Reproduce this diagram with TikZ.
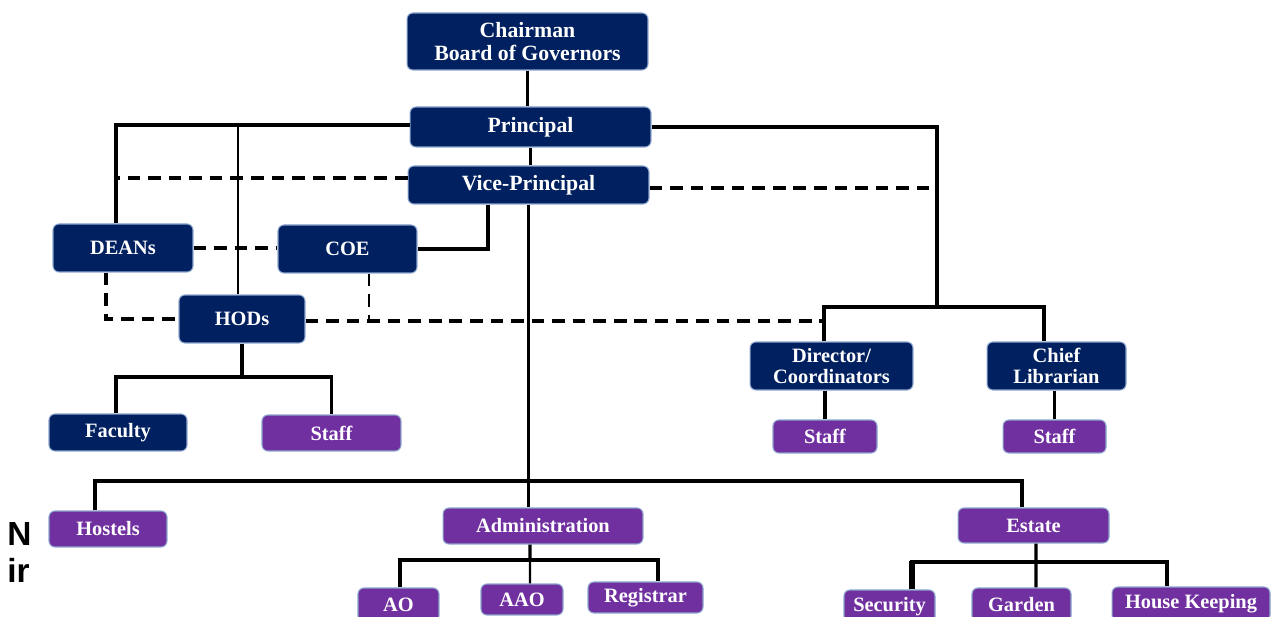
\documentclass[tikz,border=0pt]{standalone}
\usepackage{fontspec}
\setmainfont{Liberation Serif}
\newfontfamily\sidefont{Liberation Sans}
\definecolor{navy}{RGB}{0,32,96}
\definecolor{purp}{RGB}{112,48,160}
\definecolor{rim}{RGB}{140,165,205}
\tikzset{
  bx/.style={rectangle, rounded corners=3.4pt, draw=rim, line width=0.6pt, text=white,
    font=\bfseries\fontsize{11.6}{12.4}\selectfont, align=center, inner sep=0pt},
  nv/.style={bx, fill=navy},
  pp/.style={bx, fill=purp},
  big/.style={font=\bfseries\fontsize{12.4}{12.6}\selectfont},
  ln/.style={line width=1.9pt},
  thinln/.style={line width=1.2pt},
  dsh/.style={line width=1.9pt, dash pattern=on 7.2pt off 4.5pt},
  thindsh/.style={line width=1.2pt, dash pattern=on 7.2pt off 4.5pt},
}
\begin{document}
\begin{tikzpicture}[x=0.02cm, y=-0.02cm]
\useasboundingbox (0,0) rectangle (1280,617);
\clip (0,0) rectangle (1280,617);
\fill[white] (0,0) rectangle (1280,617);

% nodes
\node[nv, big, minimum width=4.82cm, minimum height=1.14cm] (chair) at (527.5,41.5) {Chairman\\Board of Governors};
\node[nv, big, minimum width=4.82cm, minimum height=0.80cm] (principal) at (530.5,127) {Principal};
\node[nv, big, minimum width=4.82cm, minimum height=0.76cm] (vp) at (528.5,185) {Vice-Principal};
\node[nv, minimum width=2.80cm, minimum height=0.96cm] (deans) at (123,248) {DEANs};
\node[nv, minimum width=2.78cm, minimum height=0.96cm] (coe) at (347.5,249) {COE};
\node[nv, minimum width=2.52cm, minimum height=0.96cm] (hods) at (242,319) {HODs};
\node[nv, minimum width=3.26cm, minimum height=0.96cm] (dc) at (831.5,366) {Director/\\Coordinators};
\node[nv, minimum width=2.78cm, minimum height=0.96cm] (cl) at (1056.5,366) {Chief\\Librarian};
\node[pp, minimum width=2.08cm, minimum height=0.66cm] (staffdc) at (825,436.5) {Staff};
\node[pp, minimum width=2.06cm, minimum height=0.66cm] (staffcl) at (1054.5,436.5) {Staff};
\node[nv, minimum width=2.76cm, minimum height=0.74cm] (faculty) at (118,432.5) {Faculty};
\node[pp, minimum width=2.78cm, minimum height=0.72cm] (staffh) at (331.5,433) {Staff};
\node[pp, minimum width=2.36cm, minimum height=0.72cm] (hostels) at (108,529) {Hostels};
\node[pp, minimum width=4.00cm, minimum height=0.72cm] (admin) at (543,526) {Administration};
\node[pp, minimum width=3.02cm, minimum height=0.70cm] (estate) at (1033.5,525.5) {Estate};
\node[pp, minimum width=1.62cm, minimum height=0.68cm] (ao) at (398.5,605) {AO};
\node[pp, minimum width=1.64cm, minimum height=0.62cm] (aao) at (522,599.5) {AAO};
\node[pp, minimum width=2.30cm, minimum height=0.62cm] (reg) at (645.5,597.5) {Registrar};
\node[pp, minimum width=1.82cm, minimum height=0.68cm] (security) at (889.5,607) {Security};
\node[pp, minimum width=1.98cm, minimum height=0.68cm] (garden) at (1021.5,605) {Garden};
\node[pp, minimum width=3.16cm, minimum height=0.68cm] (hk) at (1191,604) {House Keeping};

% side text
\node[font=\sidefont\bfseries\fontsize{19}{20}\selectfont, anchor=west, inner sep=0pt] (sideN) at (7,534) {N};
\node[font=\sidefont\bfseries\fontsize{19}{20}\selectfont, anchor=west, inner sep=0pt] (sideI) at (7,570) {ir};

% junction coordinates
\coordinate (dl) at (116,125);
\coordinate (j1) at (937,307);
\coordinate (hj) at (242,377);
\coordinate (busc) at (530,481);
\coordinate (aj) at (530,560);
\coordinate (ej) at (1036,562);
\coordinate (dcl) at ([xshift=-0.15cm]dc.north);
\coordinate (hodr) at ([yshift=-0.04cm]hods.east);
\coordinate (coed) at ([xshift=0.43cm]coe.south);

% top spine
\draw[ln, line width=2.2pt] (chair.south) -- (chair.south |- principal.north);
\draw[ln, line width=2.2pt] (principal.south) -- (principal.south |- vp.north);

% principal to left
\draw[ln] ([yshift=0.04cm]principal.west) -| ([xshift=-0.14cm]deans.north);
\draw[thinln] ([xshift=-0.08cm]hods.north) |- ([yshift=0.04cm]principal.west);

% principal to right
\draw[ln] (principal.east) -| (j1);
\draw[ln] (dcl) |- (j1) -| ([xshift=-0.25cm]cl.north);

% VP dashed links
\coordinate (vpl) at ([yshift=0.14cm]vp.west);
\coordinate (vpr) at ([yshift=-0.06cm]vp.east);
\draw[dsh] (vpl) -- (vpl -| dl);
\draw[dsh] (vpr) -- (vpr -| j1);

% VP to COE
\draw[ln] ([xshift=-0.81cm]vp.south) |- (coe.east);

% DEANs - COE dashed
\draw[dsh] (deans.east) -- (deans.east -| coe.west);

% DEANs - HODs dashed
\draw[dsh] ([xshift=-0.34cm]deans.south) |- (hods.west);

% HODs - DC dashed, COE dashed drop
\draw[dsh] (hodr) -- (hodr -| dcl);
\draw[thindsh] (coed) -- (coed |- hodr);

% HODs to Faculty / Staff
\draw[ln] (hods.south) -- (hj);
\draw[ln] ([xshift=-0.04cm]faculty.north) |- (hj) -| (staffh.north);

% DC / CL to staff
\draw[ln] (staffdc.north) -- (staffdc.north |- dc.south);
\draw[ln] (staffcl.north) -- (staffcl.north |- cl.south);

% main trunk and bus
\draw[thinln, line width=1.5pt] (vp.south) -- (vp.south |- admin.north);
\draw[ln] ([xshift=-0.26cm]hostels.north) |- (busc) -| ([xshift=-0.23cm]estate.north);

% administration
\draw[ln] ([xshift=-0.26cm]admin.south) -- (aj);
\draw[ln] ([xshift=0.03cm]ao.north) |- (aj) -| ([xshift=0.25cm]reg.north);
\draw[thinln] ([xshift=0.16cm]aao.north) -- (aj);

% estate
\draw[ln] ([xshift=0.05cm]estate.south) -- (ej);
\draw[ln] ([xshift=0.29cm]garden.north) -- (ej);
\draw[ln] ([xshift=0.45cm]security.north) |- (ej) -| ([xshift=-0.48cm]hk.north);
\draw[line width=3pt] ([xshift=0.45cm]security.north) -- ++(0,-28);
\end{tikzpicture}
\end{document}
